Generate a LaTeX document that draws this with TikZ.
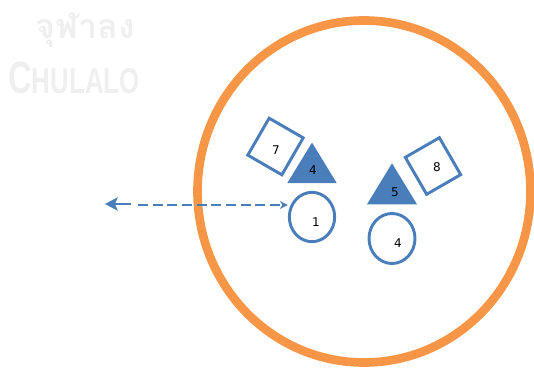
\documentclass[tikz,border=0pt]{standalone}
\usepackage{fontspec}
\setmainfont{DejaVu Sans}
\newfontfamily\thaifont[Script=Thai]{Loma}
\newfontfamily\wmfont{Liberation Sans}
\usetikzlibrary{arrows.meta,calc,shapes.geometric}
\definecolor{ringorange}{HTML}{F79646}
\definecolor{itemblue}{HTML}{4A7EBB}
\definecolor{wmgray}{HTML}{EFEFEF}
\begin{document}
\begin{tikzpicture}[x=0.75pt,y=-0.75pt,
  ring/.style={draw=ringorange,line width=6.5pt,ellipse,inner sep=0pt},
  sq/.style={draw=itemblue,line width=2.2pt,minimum width=29.5pt,minimum height=32pt,inner sep=0pt},
  ov/.style={draw=itemblue,line width=2.2pt,ellipse,minimum width=34pt,minimum height=37pt,inner sep=0pt},
  tri/.style={fill=itemblue},
  num/.style={font=\fontsize{9}{10}\selectfont,text=black,inner sep=0pt},
  flow/.style={draw=itemblue,line width=1.6pt},
  wm/.style={text=wmgray,inner sep=0pt,anchor=base west}]
\useasboundingbox (0,0) rectangle (534,370);

% faint watermark, cut off on the right
\begin{scope}
  \clip (0,0) rectangle (137,110);
  \node[wm,font=\thaifont\bfseries\fontsize{25.5}{27}\selectfont] (wmthai) at (35,39) {จุฬาลง};
  \node[wm,font=\wmfont\bfseries,xscale=0.72] (wmlatin) at (8,94)
    {\fontsize{34}{36}\selectfont C\fontsize{27}{29}\selectfont HULALO};
\end{scope}

% boundary ring
\node[ring,minimum width=249.75pt,minimum height=256.5pt] (ring) at (364,191.5) {};

% rotated squares
\node[sq,rotate=-30] (s7) at (275.5,146.5) {};
\node[num] (n7) at (276,150) {7};
\node[sq,rotate=30] (s8) at (433,166) {};
\node[num] (n8) at (437,167) {8};

% filled triangles
\coordinate (t4) at (312,169.6);
\fill[tri] ($(t4)+(0,-27)$) -- ($(t4)+(24.7,13.4)$) -- ($(t4)+(-24.7,13.4)$) -- cycle;
\node[num] (n4a) at (313,170) {4};
\coordinate (t5) at (392,190.6);
\fill[tri] ($(t5)+(0,-27.3)$) -- ($(t5)+(25,13.7)$) -- ($(t5)+(-25,13.7)$) -- cycle;
\node[num] (n5) at (395,192) {5};

% ovals
\node[ov] (c1) at (312,217) {};
\node[num] (n1) at (316,222) {1};
\node[ov,minimum width=34.5pt,minimum height=37.5pt] (c4) at (392,238.5) {};
\node[num] (n4b) at (398,243) {4};

% incoming / outgoing flow
\coordinate (outtip) at (105,204);
\coordinate (outtail) at (131,204);
\coordinate (instart) at (138,205);
\draw[flow,-{Stealth[length=9.5pt,width=10pt,inset=2pt]}] (outtail) -- (outtip);
\draw[flow,dash pattern=on 7.5pt off 3.5pt,-{Stealth[length=6pt,width=6pt]}] (instart) -- (instart -| c1.west);
\end{tikzpicture}
\end{document}
